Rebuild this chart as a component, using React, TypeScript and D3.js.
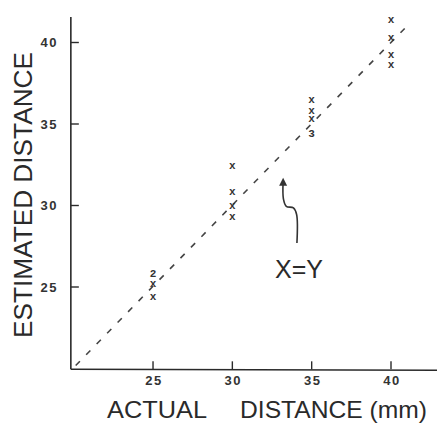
import React from "react";
import * as d3 from "d3";

// readings (mm)
const actualMm = [25, 25, 25, 30, 30, 30, 30, 35, 35, 35, 35, 40, 40, 40, 40];
const estimatedMm = [25.8, 25.2, 24.4, 32.4, 30.8, 30.0, 29.3, 36.5, 35.8, 35.3, 34.4, 41.35, 40.25, 39.25, 38.6];
// symbol typed at each reading ("2"/"3" = number of coincident subjects)
const pointMarks = ["2", "x", "x", "x", "x", "x", "x", "x", "x", "x", "3", "x", "x", "x", "x"];

const xTicks = [25, 30, 35, 40];
const yTicks = [25, 30, 35, 40];
const identityEnds = [20, 41.1];

// hand drawn arrow towards the X=Y line, in data units
const arrowPath: [number, number][] = [
  [33.2, 31.45],
  [33.22, 30.4],
  [33.4, 29.95],
  [33.85, 29.85],
  [34.05, 29.45],
  [34.07, 27.7],
];

const W = 437;
const H = 424;

const App = () => {
  const x = d3.scaleLinear().domain([20, 40]).range([73.7, 391]);
  const y = d3.scaleLinear().domain([20, 40]).range([368.5, 42.5]);

  const ink = "#2a2a2a";
  const axisX = x(19.82);
  const axisY = y(19.95);

  const arrowLine = d3
    .line<[number, number]>()
    .x((d) => x(d[0]))
    .y((d) => y(d[1]))
    .curve(d3.curveCatmullRom);

  const tip = [x(arrowPath[0][0]), y(arrowPath[0][1])];

  return (
    <svg
      width={W}
      height={H}
      style={{ position: "absolute", left: 0, top: 0, background: "#fff" }}
    >
      {/* axes */}
      <line x1={axisX} x2={axisX} y1={17} y2={axisY} stroke={ink} strokeWidth={1.6} />
      <line x1={axisX} x2={W} y1={axisY} y2={axisY + 1} stroke={ink} strokeWidth={1.6} />

      {yTicks.map((t) => (
        <g key={"y" + t}>
          <line x1={axisX} x2={axisX + 8} y1={y(t)} y2={y(t)} stroke={ink} strokeWidth={1.4} />
          <text
            x={58}
            y={y(t) + 4.5}
            textAnchor="end"
            fontFamily="Liberation Sans, Arial, sans-serif"
            fontWeight="bold"
            fontSize={13}
            letterSpacing={1.5}
            fill="#333"
          >
            {t}
          </text>
        </g>
      ))}

      {xTicks.map((t) => (
        <g key={"x" + t}>
          <line x1={x(t)} x2={x(t)} y1={axisY} y2={axisY - 8} stroke={ink} strokeWidth={1.4} />
          <text
            x={x(t) + 1}
            y={385}
            textAnchor="middle"
            fontFamily="Liberation Sans, Arial, sans-serif"
            fontWeight="bold"
            fontSize={13}
            letterSpacing={1.5}
            fill="#333"
          >
            {t}
          </text>
        </g>
      ))}

      {/* X = Y line */}
      <line
        x1={x(identityEnds[0]) + 2}
        y1={y(identityEnds[0]) - 3}
        x2={x(identityEnds[1])}
        y2={y(identityEnds[1])}
        stroke="#444"
        strokeWidth={1.6}
        strokeDasharray="6 9"
      />

      {/* readings */}
      {actualMm.map((a, i) => (
        <text
          key={"p" + i}
          x={x(a)}
          y={y(estimatedMm[i]) + 3}
          textAnchor="middle"
          fontFamily="Liberation Mono, DejaVu Sans Mono, monospace"
          fontWeight="bold"
          fontSize={11}
          fill="#333"
        >
          {pointMarks[i]}
        </text>
      ))}

      {/* annotation */}
      <path d={arrowLine(arrowPath) || ""} fill="none" stroke="#333" strokeWidth={1.6} />
      <path
        d={`M${tip[0]},${tip[1] - 4} L${tip[0] - 4},${tip[1] + 4} L${tip[0] + 4},${tip[1] + 4} Z`}
        fill="#333"
      />
      <text
        x={x(34.2)}
        y={y(25.55)}
        textAnchor="middle"
        fontFamily="Liberation Sans, Arial, sans-serif"
        fontSize={25}
        fill={ink}
      >
        X=Y
      </text>

      {/* axis titles */}
      <text
        transform="translate(32,195) rotate(-90)"
        textAnchor="middle"
        fontFamily="Liberation Sans, Arial, sans-serif"
        fontSize={26}
        textLength={286}
        lengthAdjust="spacingAndGlyphs"
        fill={ink}
      >
        ESTIMATED DISTANCE
      </text>
      <text
        x={107}
        y={418}
        fontFamily="Liberation Sans, Arial, sans-serif"
        fontSize={24}
        textLength={100}
        lengthAdjust="spacingAndGlyphs"
        fill={ink}
      >
        ACTUAL
      </text>
      <text
        x={240}
        y={418}
        fontFamily="Liberation Sans, Arial, sans-serif"
        fontSize={24}
        textLength={187}
        lengthAdjust="spacingAndGlyphs"
        fill={ink}
      >
        DISTANCE (mm)
      </text>
    </svg>
  );
};

export default App;
